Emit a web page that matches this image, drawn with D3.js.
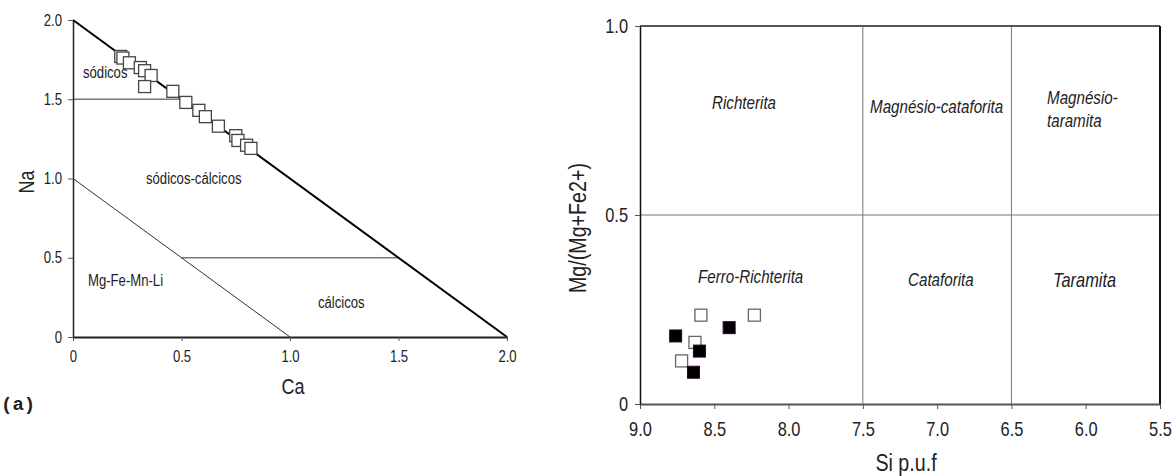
<!DOCTYPE html>
<html>
<head>
<meta charset="utf-8">
<script src="https://cdn.jsdelivr.net/npm/d3@7"></script>
<style>
  body { margin: 0; background: #fff; }
  svg text { fill: #222; }
</style>
</head>
<body>
<script>
const W = 1176, H = 476;
const SANS = "'Liberation Sans', Arial, sans-serif";
const SQUEEZE = 0.82; // the original lettering is a narrow face

// left diagram: Na vs Ca
const caTicks = [0, 0.5, 1, 1.5, 2];
const caLabels = ["0", "0.5", "1.0", "1.5", "2.0"];
const naTicks = [0, 0.5, 1, 1.5, 2];
const naLabels = ["0", "0.5", "1.0", "1.5", "2.0"];
const sampleCa = [0.22, 0.23, 0.26, 0.31, 0.33, 0.36, 0.33, 0.46, 0.52, 0.58, 0.61, 0.67, 0.75, 0.76, 0.80, 0.82];
const sampleNa = [1.77, 1.76, 1.73, 1.70, 1.68, 1.65, 1.58, 1.55, 1.48, 1.43, 1.39, 1.33, 1.27, 1.24, 1.21, 1.19];

// right diagram: Mg/(Mg+Fe2+) vs Si
const siTicks = [9.0, 8.5, 8.0, 7.5, 7.0, 6.5, 6.0, 5.5];
const siLabels = ["9.0", "8.5", "8.0", "7.5", "7.0", "6.5", "6.0", "5.5"];
const mgTicks = [0, 0.5, 1];
const mgLabels = ["0", "0.5", "1.0"];
const openSi = [8.59, 8.23, 8.63, 8.72];
const openMg = [0.235, 0.235, 0.163, 0.114];
const filledSi = [8.76, 8.40, 8.60, 8.64];
const filledMg = [0.180, 0.202, 0.140, 0.084];

const svg = d3.select("body").append("svg")
    .attr("width", W)
    .attr("height", H);

// narrow the text horizontally around its anchor point
function squeeze(sel) {
    sel.each(function() {
        const t = d3.select(this);
        const x = +t.attr("x") || 0, y = +t.attr("y") || 0;
        const prev = t.attr("transform") || "";
        t.attr("x", 0).attr("y", 0)
            .attr("transform", prev + " translate(" + x + "," + y + ") scale(" + SQUEEZE + ",1)");
    });
}

function seg(g, a, b, c, d, color, width) {
    g.append("line")
        .attr("x1", a).attr("y1", b).attr("x2", c).attr("y2", d)
        .attr("stroke", color).attr("stroke-width", width);
}

// ---------- left ----------
const x1 = d3.scaleLinear().domain([0, 2]).range([73, 507]);
const y1 = d3.scaleLinear().domain([0, 2]).range([337, 20]);

const left = svg.append("g");

// field boundaries
seg(left, x1(0), y1(1.5), x1(0.5), y1(1.5), "#777", 1.3);
seg(left, x1(0.5), y1(0.5), x1(1.5), y1(0.5), "#777", 1.3);
seg(left, x1(0), y1(1), x1(1), y1(0), "#333", 1);
seg(left, x1(0), y1(2), x1(2), y1(0), "#000", 2);

const lAxisX = left.append("g")
    .attr("transform", "translate(0," + y1(0) + ")")
    .call(d3.axisBottom(x1).tickValues(caTicks).tickSize(4).tickSizeOuter(0).tickPadding(10)
        .tickFormat((d, i) => caLabels[i]));
const lAxisY = left.append("g")
    .attr("transform", "translate(" + x1(0) + ",0)")
    .call(d3.axisLeft(y1).tickValues(naTicks).tickSize(5).tickSizeOuter(0).tickPadding(6)
        .tickFormat((d, i) => naLabels[i]));
lAxisX.select(".domain").attr("stroke", "#222").attr("stroke-width", 2);
lAxisY.select(".domain").attr("stroke", "#222").attr("stroke-width", 1.5);
[lAxisX, lAxisY].forEach(a => {
    a.selectAll(".tick line").attr("stroke", "#555");
    a.selectAll("text").attr("font-family", SANS).attr("font-size", 16).attr("fill", "#222").call(squeeze);
});

left.selectAll("rect.pt")
    .data(sampleCa)
    .join("rect")
    .attr("class", "pt")
    .attr("x", (d) => x1(d) - 6)
    .attr("y", (d, i) => y1(sampleNa[i]) - 6)
    .attr("width", 12)
    .attr("height", 12)
    .attr("fill", "#fff")
    .attr("stroke", "#444")
    .attr("stroke-width", 1.3);

const leftNames = [
    ["sódicos", 83, 78],
    ["sódicos-cálcicos", 146, 184],
    ["Mg-Fe-Mn-Li", 88, 286],
    ["cálcicos", 318, 308]
];
left.selectAll("text.field")
    .data(leftNames)
    .join("text")
    .attr("class", "field")
    .attr("x", (d) => d[1])
    .attr("y", (d) => d[2])
    .attr("font-family", SANS)
    .attr("font-size", 16)
    .text((d) => d[0])
    .call(squeeze);

left.append("text")
    .attr("transform", "translate(34,182) rotate(-90)")
    .attr("text-anchor", "middle")
    .attr("font-family", SANS)
    .attr("font-size", 22)
    .text("Na")
    .call(squeeze);
left.append("text")
    .attr("x", 293).attr("y", 394)
    .attr("text-anchor", "middle")
    .attr("font-family", SANS)
    .attr("font-size", 22)
    .text("Ca")
    .call(squeeze);

svg.append("text")
    .attr("x", 1).attr("y", 410)
    .attr("font-family", "'Liberation Mono', 'Courier New', monospace")
    .attr("font-weight", "bold")
    .attr("font-size", 19)
    .attr("fill", "#000")
    .text("(a)");

// ---------- right ----------
const x2 = d3.scaleLinear().domain([9.0, 5.5]).range([640, 1160]);
const y2 = d3.scaleLinear().domain([0, 1]).range([404, 26]);

const right = svg.append("g");

// field boundaries
seg(right, x2(7.5), y2(0), x2(7.5), y2(1), "#777", 1);
seg(right, x2(6.5), y2(0), x2(6.5), y2(1), "#777", 1);
seg(right, x2(9.0), y2(0.5), x2(5.5), y2(0.5), "#777", 1);
// frame
seg(right, x2(9.0), y2(1), x2(5.5), y2(1), "#555", 2);
seg(right, x2(5.5), y2(1), x2(5.5), y2(0), "#111", 2);

const rAxisX = right.append("g")
    .attr("transform", "translate(0," + y2(0) + ")")
    .call(d3.axisBottom(x2).tickValues(siTicks).tickSize(5).tickSizeOuter(0).tickPadding(13)
        .tickFormat((d, i) => siLabels[i]));
const rAxisY = right.append("g")
    .attr("transform", "translate(" + x2(9.0) + ",0)")
    .call(d3.axisLeft(y2).tickValues(mgTicks).tickSize(5).tickSizeOuter(0).tickPadding(7)
        .tickFormat((d, i) => mgLabels[i]));
rAxisX.select(".domain").attr("stroke", "#555").attr("stroke-width", 2);
rAxisY.select(".domain").attr("stroke", "#111").attr("stroke-width", 1.5);
[rAxisX, rAxisY].forEach(a => {
    a.selectAll(".tick line").attr("stroke", "#555");
    a.selectAll("text").attr("font-family", SANS).attr("font-size", 20).attr("fill", "#222").call(squeeze);
});

right.selectAll("rect.open")
    .data(openSi)
    .join("rect")
    .attr("class", "open")
    .attr("x", (d) => x2(d) - 6)
    .attr("y", (d, i) => y2(openMg[i]) - 6)
    .attr("width", 12)
    .attr("height", 12)
    .attr("fill", "#fff")
    .attr("stroke", "#666")
    .attr("stroke-width", 1.3);

right.selectAll("rect.filled")
    .data(filledSi)
    .join("rect")
    .attr("class", "filled")
    .attr("x", (d) => x2(d) - 6)
    .attr("y", (d, i) => y2(filledMg[i]) - 6)
    .attr("width", 12)
    .attr("height", 12)
    .attr("fill", "#000")
    .attr("stroke", "#303")
    .attr("stroke-width", 1);

const rightNames = [
    ["Richterita", 712, 109, 18.5],
    ["Magnésio-cataforita", 870, 113, 18.5],
    ["Magnésio-", 1047, 104, 18.5],
    ["taramita", 1047, 127, 18.5],
    ["Ferro-Richterita", 698, 283, 18.5],
    ["Cataforita", 908, 286, 18.5],
    ["Taramita", 1053, 287, 20]
];
right.selectAll("text.field")
    .data(rightNames)
    .join("text")
    .attr("class", "field")
    .attr("x", (d) => d[1])
    .attr("y", (d) => d[2])
    .attr("font-family", SANS)
    .attr("font-style", "italic")
    .attr("font-size", (d) => d[3])
    .text((d) => d[0])
    .call(squeeze);

right.append("text")
    .attr("transform", "translate(586,228) rotate(-90)")
    .attr("text-anchor", "middle")
    .attr("font-family", SANS)
    .attr("font-size", 24)
    .text("Mg/(Mg+Fe2+)")
    .call(squeeze);
right.append("text")
    .attr("x", 906).attr("y", 471)
    .attr("text-anchor", "middle")
    .attr("font-family", SANS)
    .attr("font-size", 24)
    .text("Si p.u.f")
    .call(squeeze);
</script>
</body>
</html>
